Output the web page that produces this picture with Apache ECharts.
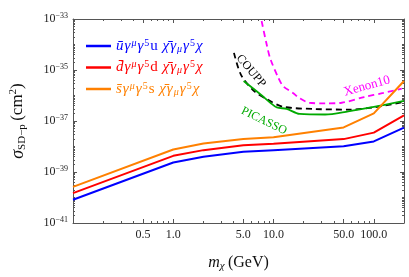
<!DOCTYPE html>
<html>
<head>
<meta charset="utf-8">
<script src="https://cdn.jsdelivr.net/npm/echarts@6/dist/echarts.min.js"></script>
<style>html,body{margin:0;padding:0;background:#fff}#c{width:409px;height:277px}</style>
</head>
<body>
<div id="c"></div>
<script>
// ---------- data (mass in GeV, cross-section in cm^2) ----------
const quarkMass = [0.1, 1, 2, 5, 10, 50, 100, 200];
const sigmaU = [8.2e-41, 2.35e-39, 4.0e-39, 6.2e-39, 7.2e-39, 1.02e-38, 1.58e-38, 5.5e-38];
const sigmaD = [1.48e-40, 4.3e-39, 7.2e-39, 1.12e-38, 1.29e-38, 1.95e-38, 3.5e-38, 1.65e-37];
const sigmaS = [2.6e-40, 7.6e-39, 1.3e-38, 1.95e-38, 2.3e-38, 5.6e-38, 2.0e-37, 3.7e-36];

const xenonMass  = [7.3, 7.53, 8.61, 9.29, 11.2, 12.5, 15.6, 18.2, 22.7, 32.7, 47.9, 80, 125, 190];
const xenonSigma = [2.0e-33, 1.0e-33, 8.7e-35, 2.75e-35, 4.8e-36, 2.3e-36, 1.26e-36, 7.8e-37, 5.2e-37, 4.9e-37, 5.2e-37, 8.7e-37, 1.26e-36, 1.86e-36];

const couppMass  = [4.03, 4.75, 6.4, 8.9, 12.5, 26.3, 55.6, 100, 200];
const couppSigma = [4.7e-35, 6.3e-36, 1.5e-36, 6.6e-37, 3.6e-37, 2.95e-37, 2.8e-37, 3.4e-37, 5.6e-37];

const picassoMass  = [5.03, 7.43, 9.29, 10.8, 13.5, 18.2, 32.7, 55.6, 100, 200];
const picassoSigma = [3.7e-36, 1.1e-36, 5.2e-37, 3.4e-37, 3.0e-37, 1.9e-37, 1.8e-37, 2.4e-37, 3.6e-37, 6.2e-37];

// ---------- axes / ticks ----------
const xRange = [0.1, 200];
const yExpRange = [-41, -33];
const xTickValues = [0.5, 1, 5, 10, 50, 100];
const xTickLabels = ['0.5', '1.0', '5.0', '10.0', '50.0', '100.0'];
const yLabelExps = [-41, -39, -37, -35, -33];

const seriesNames = ['u', 'd', 's'];
const seriesColors = ['#0000ff', '#ff0000', '#ff8000'];
const legendQuark = ['u', 'd', 's'];

// ---------- helpers ----------
const L = v => Math.log10(v);
const pairs = (ms, ss) => ms.map((m, i) => [L(m), L(ss[i])]);

const xMajorLog = xTickValues.map(L);
const xMinorLog = [];
[0.1, 1, 10, 100].forEach(d => { for (let j = 1; j <= 9; j++) { const v = d * j; if (v <= xRange[1] + 1e-9 && xTickValues.every(t => Math.abs(t - v) > 1e-9)) xMinorLog.push(L(v)); } });
const yMajorLog = yLabelExps.slice();
const yMinorLog = [];
for (let k = yExpRange[0]; k < yExpRange[1]; k++) {
  if (yLabelExps.indexOf(k) < 0) yMinorLog.push(k);
  for (let j = 2; j <= 9; j++) yMinorLog.push(k + L(j));
}
const xLab = v => { const i = xMajorLog.findIndex(t => Math.abs(t - v) < 1e-6); return i >= 0 ? xTickLabels[i] : ''; };
const yLab = v => '{b|10}{s|' + String(Math.round(v)).replace('-', '\u2212') + '}';

const SERIF = '"Liberation Serif", "DejaVu Serif", serif';
const frameColor = '#555';

function xAxisDef(pos, major, showLabel) {
  return {
    type: 'value', position: pos, min: L(xRange[0]), max: L(xRange[1]),
    axisLine: { show: major, onZero: false, lineStyle: { color: frameColor, width: 1 } },
    axisTick: { show: true, inside: true, length: major ? 4 : 2, customValues: major ? xMajorLog : xMinorLog, lineStyle: { color: frameColor } },
    axisLabel: { show: showLabel, customValues: xMajorLog, formatter: xLab, margin: 6, color: '#222', fontFamily: SERIF, fontSize: 12 },
    splitLine: { show: false }
  };
}
function yAxisDef(pos, major, showLabel) {
  return {
    type: 'value', position: pos, min: yExpRange[0], max: yExpRange[1], interval: 1,
    axisLine: { show: major, onZero: false, lineStyle: { color: frameColor, width: 1 } },
    axisTick: { show: true, inside: true, length: major ? 4 : 2, customValues: major ? yMajorLog : yMinorLog, lineStyle: { color: frameColor } },
    axisLabel: { show: showLabel, customValues: yLabelExps, formatter: yLab, margin: 5,
      rich: {
        b: { fontFamily: SERIF, fontSize: 12, color: '#222', lineHeight: 14 },
        s: { fontFamily: SERIF, fontSize: 8, color: '#222', lineHeight: 8, verticalAlign: 'top' }
      } },
    splitLine: { show: false }
  };
}

const xAxes = [xAxisDef('bottom', true, true), xAxisDef('bottom', false, false), xAxisDef('top', true, false), xAxisDef('top', false, false)];
const yAxes = [yAxisDef('left', true, true), yAxisDef('left', false, false), yAxisDef('right', true, false), yAxisDef('right', false, false)];

xAxes[0].name = '{i|m}{sub|\u03c7} {r|(GeV)}';
xAxes[0].nameLocation = 'middle';
xAxes[0].nameGap = 31;
xAxes[0].nameTextStyle = { rich: {
  i: { fontFamily: SERIF, fontStyle: 'italic', fontSize: 16, color: '#111', lineHeight: 18 },
  sub: { fontFamily: SERIF, fontStyle: 'italic', fontSize: 11, color: '#111', lineHeight: 11, verticalAlign: 'bottom' },
  r: { fontFamily: SERIF, fontSize: 16, color: '#111', lineHeight: 18 }
} };
yAxes[0].name = '{i|\u03c3}{sub|SD\u2212p} {r|(cm}{sup|2}{r|)}';
yAxes[0].nameLocation = 'middle';
yAxes[0].nameRotate = 90;
yAxes[0].nameGap = 45;
yAxes[0].nameTextStyle = { rich: {
  i: { fontFamily: SERIF, fontStyle: 'italic', fontSize: 18, color: '#111', lineHeight: 20 },
  sub: { fontFamily: SERIF, fontSize: 11, color: '#111', lineHeight: 11, verticalAlign: 'bottom' },
  sup: { fontFamily: SERIF, fontSize: 11, color: '#111', lineHeight: 11, verticalAlign: 'top' },
  r: { fontFamily: SERIF, fontSize: 17, color: '#111', lineHeight: 20 }
} };

// legend rich styles per colour
const legendRich = {};
seriesColors.forEach((c, k) => {
  legendRich['m' + k] = { fontFamily: SERIF, fontStyle: 'italic', fontSize: 15, color: c, lineHeight: 16, padding: [0, 1, 0, 0] };
  legendRich['r' + k] = { fontFamily: SERIF, fontSize: 15, color: c, lineHeight: 16, padding: [0, 1, 0, 0] };
  legendRich['p' + k] = { fontFamily: SERIF, fontStyle: 'italic', fontSize: 10, color: c, lineHeight: 10, verticalAlign: 'top', padding: [0, 1, 0, 0] };
  legendRich['q' + k] = { fontFamily: SERIF, fontSize: 10, color: c, lineHeight: 10, verticalAlign: 'top', padding: [0, 1, 0, 0] };
  legendRich['b' + k] = { fontFamily: SERIF, fontStyle: 'italic', fontSize: 10, color: c, lineHeight: 10, verticalAlign: 'bottom', padding: [0, 1, 0, 0] };
});
function legendText(name) {
  const k = seriesNames.indexOf(name);
  const q = legendQuark[k];
  const m = s => '{m' + k + '|' + s + '}';
  const r = s => '{r' + k + '|' + s + '}';
  const p = s => '{p' + k + '|' + s + '}';
  const qq = s => '{q' + k + '|' + s + '}';
  const b = s => '{b' + k + '|' + s + '}';
  return m(q + '\u0304') + m('\u03b3') + p('\u03bc') + m('\u03b3') + qq('5') + r(q + ' ') +
         m('\u03c7\u0304') + m('\u03b3') + b('\u03bc') + m('\u03b3') + qq('5') + m('\u03c7');
}

const series = [
  { name: 'Xenon10', type: 'line', data: pairs(xenonMass, xenonSigma), smooth: 0.3, showSymbol: false, symbol: 'none', clip: true,
    lineStyle: { color: '#ff00ff', width: 1.8, type: [6, 4] } },
  { name: 'COUPP', type: 'line', data: pairs(couppMass, couppSigma), smooth: 0.3, showSymbol: false, symbol: 'none', clip: true,
    lineStyle: { color: '#000000', width: 1.8, type: [6, 4] } },
  { name: 'PICASSO', type: 'line', data: pairs(picassoMass, picassoSigma), smooth: 0.3, showSymbol: false, symbol: 'none', clip: true,
    lineStyle: { color: '#00aa00', width: 1.8 } }
];
[sigmaU, sigmaD, sigmaS].forEach((s, k) => {
  series.push({ name: seriesNames[k], type: 'line', data: pairs(quarkMass, s), showSymbol: false, symbol: 'none', clip: true,
    itemStyle: { color: seriesColors[k] }, lineStyle: { color: seriesColors[k], width: 2 } });
});

const chart = echarts.init(document.getElementById('c'), null, { renderer: 'canvas' });
chart.setOption({
  animation: false,
  backgroundColor: '#fff',
  grid: { left: 65, right: 5, top: 19, bottom: 48, containLabel: false },
  xAxis: xAxes,
  yAxis: yAxes,
  legend: {
    orient: 'vertical', left: 81, top: 33, itemGap: 5.5, itemWidth: 25, itemHeight: 2.5, icon: 'rect',
    data: seriesNames, formatter: legendText, selectedMode: false,
    textStyle: { rich: legendRich }
  },
  graphic: [
    { type: 'text', x: 251, y: 71, rotation: -0.87, style: { text: 'COUPP', fill: '#000', fontFamily: SERIF, fontSize: 12, align: 'center', verticalAlign: 'middle' } },
    { type: 'text', x: 264, y: 121, rotation: -0.45, style: { text: 'PICASSO', fill: '#00aa00', fontFamily: SERIF, fontSize: 12, align: 'center', verticalAlign: 'middle' } },
    { type: 'text', x: 367, y: 86, rotation: 0.27, style: { text: 'Xenon10', fill: '#ff00ff', fontFamily: SERIF, fontSize: 13, align: 'center', verticalAlign: 'middle' } }
  ],
  series: series
});
</script>
</body>
</html>
